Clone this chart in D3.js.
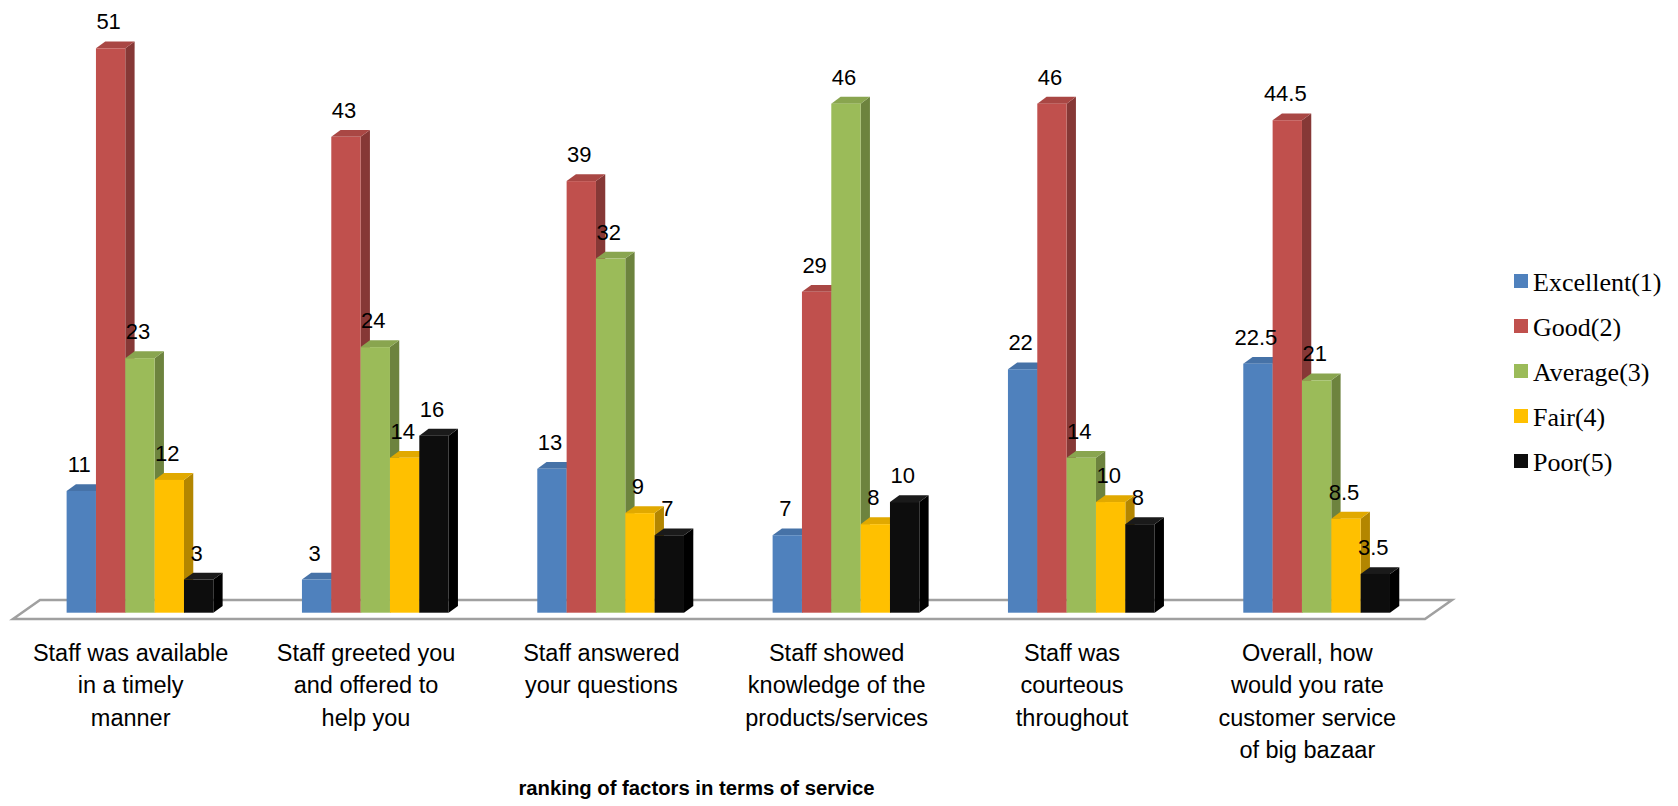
<!DOCTYPE html>
<html>
<head>
<meta charset="utf-8">
<script src="https://cdn.jsdelivr.net/npm/d3@7"></script>
<style>
  html, body { margin: 0; padding: 0; background: #ffffff; }
  svg { display: block; }
</style>
</head>
<body>
<svg id="chart" width="1678" height="806"></svg>
<script>
// ---- data ----
const categories = [
  "Staff was available\nin a timely\nmanner",
  "Staff greeted you\nand offered to\nhelp you",
  "Staff answered\nyour questions",
  "Staff showed\nknowledge of the\nproducts/services",
  "Staff was\ncourteous\nthroughout",
  "Overall, how\nwould you rate\ncustomer service\nof big bazaar"
];
const seriesNames = ["Excellent(1)", "Good(2)", "Average(3)", "Fair(4)", "Poor(5)"];
const excellent = [11, 3, 13, 7, 22, 22.5];
const good      = [51, 43, 39, 29, 46, 44.5];
const average   = [23, 24, 32, 46, 14, 21];
const fair      = [12, 14, 9, 8, 10, 8.5];
const poor      = [3, 16, 7, 10, 8, 3.5];
const seriesValues = [excellent, good, average, fair, poor];
const seriesColors = ["#4f81bd", "#c0504d", "#9bbb59", "#ffc000", "#0d0d0d"];
const axisTitle = "ranking of factors in terms of service";

// ---- layout ----
const svg = d3.select("#chart");
const floorFrontY = 619, floorLeft = 13, floorRight = 1425;
const floorDX = 27, floorDY = -19;
const barFrontShiftX = 9.3, barFrontY = 612.7;
const depthDX = 9.3, depthDY = -6.8;

const x = d3.scaleBand().domain(d3.range(categories.length)).range([floorLeft, floorRight]).padding(0);
const groupW = 146.7;
const xs = d3.scaleBand().domain(d3.range(seriesNames.length)).range([-groupW / 2, groupW / 2]).padding(0);
const y = d3.scaleLinear().domain([0, 51]).range([barFrontY, 48.3]);

// floor
svg.append("polygon")
  .attr("points", [
    [floorLeft, floorFrontY], [floorRight, floorFrontY],
    [floorRight + floorDX, floorFrontY + floorDY], [floorLeft + floorDX, floorFrontY + floorDY]
  ].map(p => p.join(",")).join(" "))
  .attr("fill", "#ffffff")
  .attr("stroke", "#a0a0a0")
  .attr("stroke-width", 2.5)
  .attr("stroke-linejoin", "miter");

// bars
const bars = [];
categories.forEach((c, ci) => {
  seriesValues.forEach((vals, si) => {
    bars.push({ ci, si, v: vals[ci] });
  });
});

const g = svg.append("g");
bars.forEach(b => {
  const x0 = x(b.ci) + x.bandwidth() / 2 + barFrontShiftX + xs(b.si);
  const w = xs.bandwidth();
  const yt = y(b.v), yb = y(0);
  const base = d3.color(seriesColors[b.si]);
  const topC = b.si === 4 ? "#1a1a1a" : base.darker(0.35).formatHex();
  const sideC = b.si === 4 ? "#000000" : base.darker(1.0).formatHex();
  // side
  g.append("polygon")
    .attr("points", [[x0 + w, yt], [x0 + w + depthDX, yt + depthDY], [x0 + w + depthDX, yb + depthDY], [x0 + w, yb]].map(p => p.join(",")).join(" "))
    .attr("fill", sideC);
  // top
  g.append("polygon")
    .attr("points", [[x0, yt], [x0 + depthDX, yt + depthDY], [x0 + w + depthDX, yt + depthDY], [x0 + w, yt]].map(p => p.join(",")).join(" "))
    .attr("fill", topC);
  // front
  g.append("rect")
    .attr("x", x0).attr("y", yt).attr("width", w).attr("height", yb - yt)
    .attr("fill", seriesColors[b.si]);
});

// value labels
svg.append("g").selectAll("text").data(bars).join("text")
  .attr("x", d => x(d.ci) + x.bandwidth() / 2 + barFrontShiftX + xs(d.si) + xs.bandwidth() / 2 - 2)
  .attr("y", d => y(d.v) - 19)
  .attr("text-anchor", "middle")
  .attr("font-family", "'Liberation Sans', Arial, sans-serif")
  .attr("font-size", 22)
  .attr("fill", "#000")
  .text(d => d.v);

// category labels
const catG = svg.append("g");
categories.forEach((c, ci) => {
  const t = catG.append("text")
    .attr("x", x(ci) + x.bandwidth() / 2)
    .attr("y", 661)
    .attr("text-anchor", "middle")
    .attr("font-family", "'Liberation Sans', Arial, sans-serif")
    .attr("font-size", 23.5)
    .attr("fill", "#000");
  c.split("\n").forEach((line, li) => {
    t.append("tspan").attr("x", x(ci) + x.bandwidth() / 2).attr("y", 661 + li * 32.3).text(line);
  });
});

// axis title
svg.append("text")
  .attr("x", 696.5).attr("y", 795)
  .attr("text-anchor", "middle")
  .attr("font-family", "'Liberation Sans', Arial, sans-serif")
  .attr("font-weight", "bold")
  .attr("font-size", 20.3)
  .attr("fill", "#000")
  .text(axisTitle);

// legend
const lg = svg.append("g");
seriesNames.forEach((n, i) => {
  const cy = 281 + i * 45;
  lg.append("rect").attr("x", 1514).attr("y", cy - 7).attr("width", 14).attr("height", 14).attr("fill", seriesColors[i]);
  lg.append("text").attr("x", 1533).attr("y", cy + 9.5)
    .attr("font-family", "'Liberation Serif', 'Times New Roman', serif")
    .attr("font-size", 26)
    .attr("fill", "#000")
    .text(n);
});
</script>
</body>
</html>
